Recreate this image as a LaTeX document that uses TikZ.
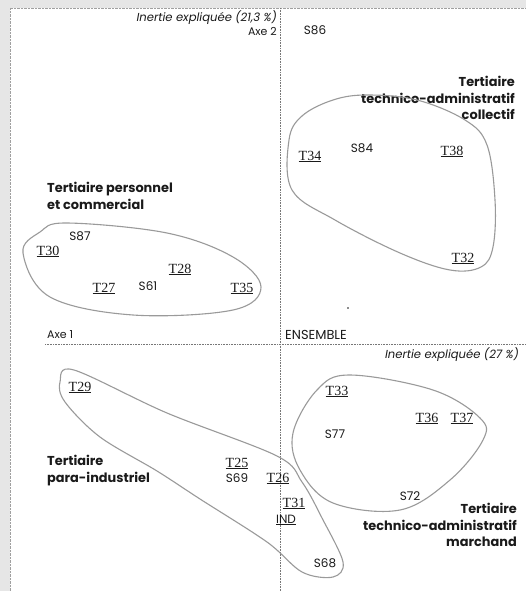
\documentclass[tikz,border=0pt]{standalone}
\usepackage{fontspec}
\setmainfont{Poppins}
\newfontfamily\serifnum{Liberation Serif}
\usepackage{tikz}
\usetikzlibrary{positioning}
\definecolor{acpPaper}{HTML}{E6E6E6}
\definecolor{acpInk}{HTML}{1A1A1A}
\definecolor{acpAxis}{HTML}{777777}
\definecolor{acpLoop}{HTML}{9A9A9A}
\colorlet{uniInk}{acpInk}
\colorlet{uniRule}{acpAxis}
\colorlet{uniLoop}{acpLoop}
\newcommand{\tcode}[1]{\underline{\serifnum\fontsize{14}{16}\selectfont #1}}

\begin{document}
\begin{tikzpicture}[x=1pt, y=-1pt, font=\fontsize{12}{14}\selectfont, text=uniInk,
  pt/.style={inner sep=0pt, anchor=base},
  grp/.style={inner sep=0pt, font=\bfseries\fontsize{12.9}{16.5}\selectfont},
  inert/.style={inner sep=0pt, font=\itshape\fontsize{11.6}{13.5}\selectfont},
  axlab/.style={inner sep=0pt, font=\fontsize{11}{13.5}\selectfont},
  loop/.style={draw=uniLoop, line width=1.1pt},
  axis/.style={draw=uniRule, line width=0.6pt, densely dotted}]
  \useasboundingbox (0,0) rectangle (526,591);
  \fill[acpPaper] (0,0) rectangle (526,591);
  \filldraw[fill=white, draw=uniRule!70, densely dotted] (10,8) rectangle (526,591);

  % axes
  \coordinate (ytop) at (280,8);
  \coordinate (ybot) at (280,591);
  \coordinate (xleft) at (45,344);
  \coordinate (xright) at (526,344);
  \draw[axis] (ytop) -- (ybot);
  \draw[axis] (xleft) -- (xright);

  \node[inert, anchor=base east] (in2) at (277,22) {Inertie expliquée (21,3 \%)};
  \node[axlab, anchor=base east] (ax2) at (277,36) {Axe 2};
  \node[axlab, anchor=base west] (ax1) at (47,338) {Axe 1};
  \node[axlab, anchor=base west, font=\fontsize{13}{15}\selectfont] (ens) at (285,339) {ENSEMBLE};
  \node[inert, anchor=base east] (in1) at (519,358) {Inertie expliquée (27 \%)};

  % groups
  \node[grp, align=right, anchor=north east] (gcol) at (515,76) {Tertiaire\\technico-administratif\\collectif};
  \node[grp, align=left, anchor=north west] (gper) at (47,182) {Tertiaire personnel\\et commercial};
  \node[grp, align=left, anchor=north west] (gind) at (47,455) {Tertiaire\\para-industriel};
  \node[grp, align=right, anchor=north east] (gmar) at (517,503) {Tertiaire\\technico-administratif\\marchand};

  % loops
  \draw[loop] plot[smooth cycle, tension=0.6] coordinates {(289,140) (302,116) (333,100) (367,95) (417,100) (465,120) (487,145) (495,200) (493,247) (481,267) (450,270) (400,253) (335,220) (292,190)};
  \draw[loop] plot[smooth cycle, tension=0.6] coordinates {(23,253) (40,232) (67,223) (167,233) (233,257) (261,287) (233,310) (133,315) (50,297)};
  \draw[loop] plot[smooth cycle, tension=0.55] coordinates {(60,382) (74,370) (167,413) (277,456) (302,482) (322,518) (343,562) (333,577) (302,572) (267,542) (200,499) (157,471) (100,437) (65,402)};
  \draw[loop] plot[smooth cycle, tension=0.6] coordinates {(293,433) (317,390) (350,375) (433,390) (480,418) (483,440) (450,480) (400,510) (333,503) (300,470)};

  % points
  \node[pt] (s86) at (315,35) {S86};
  \node[pt] (t34) at (310,160) {\tcode{T34}};
  \node[pt] (s84) at (362,152) {S84};
  \node[pt] (t38) at (452,155) {\tcode{T38}};
  \node[pt] (t32) at (463,262) {\tcode{T32}};
  \node[pt] (s87) at (80,240) {S87};
  \node[pt] (t30) at (48,255) {\tcode{T30}};
  \node[pt] (t28) at (180,273) {\tcode{T28}};
  \node[pt] (t27) at (104,292) {\tcode{T27}};
  \node[pt] (s61) at (148,290) {S61};
  \node[pt] (t35) at (242,292) {\tcode{T35}};
  \node[pt] (t29) at (80,391) {\tcode{T29}};
  \node[pt] (t25) at (237,467) {\tcode{T25}};
  \node[pt] (s69) at (237,482) {S69};
  \node[pt] (t26) at (278,482) {\tcode{T26}};
  \node[pt] (t31) at (294,507) {\tcode{T31}};
  \node[pt] (ind) at (286,523) {\underline{IND}};
  \node[pt] (s68) at (325,567) {S68};
  \node[pt] (t33) at (337,395) {\tcode{T33}};
  \node[pt] (t36) at (427,422) {\tcode{T36}};
  \node[pt] (t37) at (462,422) {\tcode{T37}};
  \node[pt] (s77) at (335,438) {S77};
  \node[pt] (s72) at (410,500) {S72};
  \fill[uniInk] (348,308) circle (0.8);
\end{tikzpicture}
\end{document}
